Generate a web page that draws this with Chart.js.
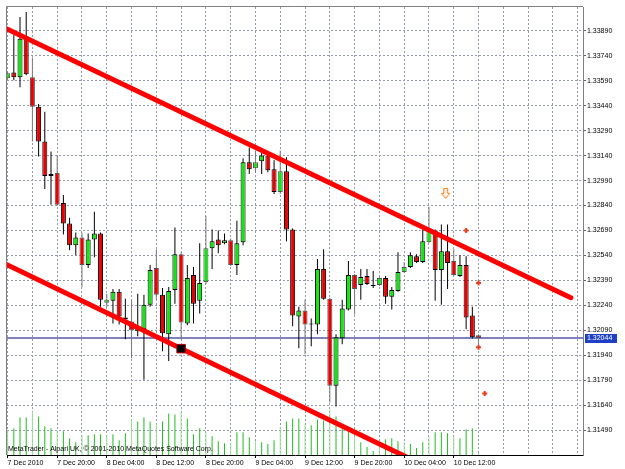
<!DOCTYPE html>
<html>
<head>
<meta charset="utf-8">
<script src="https://cdn.jsdelivr.net/npm/chart.js@4.4.1/dist/chart.umd.min.js"></script>
<style>
  html, body { margin: 0; padding: 0; background: #fff; }
  canvas { display: block; }
</style>
</head>
<body>
<canvas id="chart" width="625" height="469"></canvas>
<script>
// H1 bars, 7 Dec 2010 12:00 -> 10 Dec 2010 16:00
const opens = [1.33605, 1.33640, 1.33611, 1.33842, 1.33611, 1.33433, 1.33225, 1.33017, 1.33035, 1.32856,
  1.32732, 1.32601, 1.32648, 1.32482, 1.32636, 1.32672, 1.32256, 1.32268, 1.32322, 1.32167,
  1.32143, 1.32084, 1.32096, 1.32244, 1.32464, 1.32304, 1.32066, 1.32333, 1.32547, 1.32131,
  1.32423, 1.32268, 1.32381, 1.32583, 1.32636, 1.32613, 1.32631, 1.32482, 1.32619, 1.33100,
  1.33064, 1.33106, 1.33141, 1.33058, 1.32922, 1.33046, 1.32696, 1.32173, 1.32209, 1.32128,
  1.32125, 1.32458, 1.32280, 1.31757, 1.32042, 1.32215, 1.32423, 1.32363, 1.32417, 1.32363,
  1.32363, 1.32405, 1.32292, 1.32327, 1.32440, 1.32470, 1.32535, 1.32500, 1.32619, 1.32690,
  1.32452, 1.32565, 1.32506, 1.32417, 1.32482, 1.32179, 1.32060];
const highs = [1.33646, 1.33866, 1.33973, 1.34003, 1.33730, 1.33450, 1.33403, 1.33165, 1.33141, 1.32904,
  1.32767, 1.32678, 1.32678, 1.32672, 1.32803, 1.32678, 1.32310, 1.32339, 1.32339, 1.32280,
  1.32274, 1.32310, 1.32304, 1.32482, 1.32577, 1.32345, 1.32351, 1.32708, 1.32559, 1.32482,
  1.32470, 1.32613, 1.32779, 1.32696, 1.32690, 1.32672, 1.32642, 1.32749, 1.33124, 1.33189,
  1.33171, 1.33171, 1.33153, 1.33112, 1.33171, 1.33130, 1.32702, 1.32232, 1.32274, 1.32161,
  1.32518, 1.32577, 1.32286, 1.32066, 1.32274, 1.32506, 1.32429, 1.32458, 1.32458, 1.32446,
  1.32411, 1.32417, 1.32351, 1.32559, 1.32500, 1.32559, 1.32547, 1.32696, 1.32832, 1.32696,
  1.32726, 1.32726, 1.32577, 1.32541, 1.32535, 1.32232, 1.32066];
const lows = [1.33593, 1.33593, 1.33551, 1.33623, 1.33225, 1.33135, 1.32939, 1.32844, 1.32838, 1.32666,
  1.32571, 1.32541, 1.32351, 1.32464, 1.32530, 1.32232, 1.32227, 1.32131, 1.32125, 1.32036,
  1.31923, 1.32054, 1.31793, 1.32232, 1.32274, 1.31965, 1.31906, 1.32250, 1.32036, 1.32120,
  1.32131, 1.32191, 1.32369, 1.32458, 1.32553, 1.32607, 1.32476, 1.32423, 1.32601, 1.33029,
  1.33035, 1.33029, 1.33040, 1.32910, 1.32910, 1.32625, 1.32114, 1.31983, 1.31947, 1.31995,
  1.32066, 1.32274, 1.31656, 1.31632, 1.32007, 1.32209, 1.32185, 1.32274, 1.32363, 1.32345,
  1.32357, 1.32250, 1.32215, 1.32322, 1.32435, 1.32464, 1.32494, 1.32494, 1.32613, 1.32268,
  1.32244, 1.32339, 1.32417, 1.32411, 1.32096, 1.32042, 1.32007];
const closes = [1.33635, 1.33611, 1.33842, 1.33629, 1.33433, 1.33225, 1.33017, 1.33029, 1.32844, 1.32732,
  1.32601, 1.32648, 1.32482, 1.32636, 1.32672, 1.32274, 1.32274, 1.32322, 1.32173, 1.32155,
  1.32090, 1.32114, 1.32244, 1.32452, 1.32304, 1.32072, 1.32327, 1.32547, 1.32137, 1.32405,
  1.32250, 1.32375, 1.32583, 1.32625, 1.32601, 1.32631, 1.32482, 1.32613, 1.33100, 1.33058,
  1.33100, 1.33141, 1.33052, 1.32922, 1.33046, 1.32696, 1.32179, 1.32209, 1.32125, 1.32125,
  1.32458, 1.32280, 1.31757, 1.32048, 1.32221, 1.32423, 1.32339, 1.32411, 1.32369, 1.32357,
  1.32405, 1.32292, 1.32333, 1.32440, 1.32470, 1.32541, 1.32500, 1.32625, 1.32690, 1.32452,
  1.32565, 1.32494, 1.32423, 1.32482, 1.32167, 1.32048, 1.32044];
const volumes = [500, 540, 760, 760, 900, 780, 580, 540, 460, 480,
  340, 260, 400, 400, 420, 420, 400, 420, 300, 440,
  720, 680, 760, 680, 640, 680, 840, 820, 900, 740,
  420, 540, 460, 380, 280, 240, 240, 460, 460, 360,
  280, 260, 220, 300, 560, 680, 740, 740, 620, 600,
  720, 700, 920, 780, 540, 480, 380, 260, 160, 80,
  160, 320, 340, 280, 260, 220, 140, 260, 360, 460,
  460, 440, 380, 340, 520, 540, 40];

const timeLabels = ["7 Dec 2010", "7 Dec 20:00", "8 Dec 04:00", "8 Dec 12:00", "8 Dec 20:00",
  "9 Dec 04:00", "9 Dec 12:00", "9 Dec 20:00", "10 Dec 04:00", "10 Dec 12:00"];
const priceTicks = [1.31490, 1.31640, 1.31790, 1.31940, 1.32090, 1.32240, 1.32390, 1.32540,
  1.32690, 1.32840, 1.32990, 1.33140, 1.33290, 1.33440, 1.33590, 1.33740, 1.33890];
const bidPrice = 1.32044;

// objects on the chart: [bar index, price]
const upperChannel = [[-1, 1.33917], [90.9, 1.32286]];
const lowerChannel = [[-1, 1.32500], [70, 1.31228]];
const anchorPoint = [[28, 1.31980]];
const signalDots = [[74, 1.32690], [76, 1.32375], [76, 1.31989], [77, 1.31710]];
const sellArrow = [[70.7, 1.32913]];

const copyright = "MetaTrader - Alpari UK, \u00a9 2001-2010 MetaQuotes Software Corp.";
const font = { family: '"Liberation Sans", Arial, sans-serif', size: 7 };
const gridColor = '#949cab';

const toPoints = arr => arr.map(p => ({ x: p[0], y: p[1] }));
const bull = opens.map((o, i) => closes[i] >= o);
const soft = opens.map((o, i) => i % 4 === 0);

function arrowIcon() {
  const c = document.createElement('canvas');
  c.width = 9; c.height = 11;
  const g = c.getContext('2d');
  g.beginPath();
  g.moveTo(2.5, 0.5); g.lineTo(6.5, 0.5); g.lineTo(6.5, 5.5); g.lineTo(8.5, 5.5);
  g.lineTo(4.5, 10.5); g.lineTo(0.5, 5.5); g.lineTo(2.5, 5.5); g.closePath();
  g.fillStyle = '#fff4ee'; g.fill();
  g.strokeStyle = '#ff7a10'; g.lineWidth = 1; g.stroke();
  return c;
}

const decor = {
  id: 'decor',
  afterDraw(chart) {
    const { ctx, chartArea: a, scales } = chart;
    ctx.save();
    ctx.strokeStyle = '#808080';
    ctx.lineWidth = 1;
    ctx.beginPath();
    ctx.moveTo(a.left - 0.5, a.bottom);
    ctx.lineTo(a.left - 0.5, a.top - 0.5);
    ctx.lineTo(a.right, a.top - 0.5);
    ctx.stroke();

    ctx.font = '7px "Liberation Sans", Arial, sans-serif';
    ctx.fillStyle = '#000';
    ctx.textBaseline = 'alphabetic';
    ctx.fillText(copyright, a.left + 1, a.bottom - 4);

    const y = Math.round(scales.y.getPixelForValue(bidPrice));
    ctx.fillStyle = '#1f3fc4';
    ctx.fillRect(a.right + 2, y - 4, 32, 9);
    ctx.fillStyle = '#fff';
    ctx.textBaseline = 'middle';
    ctx.fillText(bidPrice.toFixed(5), a.right + 4, y + 0.5);
    ctx.restore();
  }
};

new Chart(document.getElementById('chart'), {
  type: 'bar',
  data: {
    datasets: [
      {
        label: 'Volume',
        yAxisID: 'yv',
        data: volumes.map((v, i) => ({ x: i, y: v })),
        backgroundColor: soft.map(s => s ? '#9bdc9b' : '#22bb22'),
        barThickness: 1,
        inflateAmount: 0,
        grouped: false,
        order: 6
      },
      {
        type: 'line',
        label: 'Bid',
        data: [{ x: -1, y: bidPrice }, { x: 95, y: bidPrice }],
        borderColor: '#00007a',
        borderWidth: 1,
        pointRadius: 0,
        clip: 0,
        order: 5
      },
      {
        label: 'Wicks',
        data: highs.map((h, i) => ({ x: i, y: [lows[i], h] })),
        backgroundColor: soft.map(s => s ? '#7a7a7a' : '#000'),
        barThickness: 1,
        inflateAmount: 0,
        grouped: false,
        order: 4
      },
      {
        label: 'Bodies',
        data: opens.map((o, i) => ({ x: i, y: [o, closes[i]] })),
        backgroundColor: bull.map(b => b ? '#14e614' : '#ec0000'),
        borderColor: soft.map(s => s ? '#555' : '#000'),
        borderWidth: 1,
        borderSkipped: false,
        barThickness: 5,
        minBarLength: 1,
        inflateAmount: 0,
        grouped: false,
        order: 3
      },
      {
        type: 'line',
        label: 'Upper channel',
        data: toPoints(upperChannel),
        borderColor: '#ff0000',
        borderWidth: 5,
        borderCapStyle: 'round',
        pointRadius: 0,
        clip: 0,
        order: 2
      },
      {
        type: 'line',
        label: 'Lower channel',
        data: toPoints(lowerChannel),
        borderColor: '#ff0000',
        borderWidth: 5,
        pointRadius: 0,
        clip: 0,
        order: 2
      },
      {
        type: 'scatter',
        label: 'Anchor',
        data: toPoints(anchorPoint),
        pointStyle: 'rect',
        pointRadius: 6,
        backgroundColor: '#000',
        borderColor: '#b00000',
        borderWidth: 1,
        order: 1
      },
      {
        type: 'scatter',
        label: 'Signals',
        data: toPoints(signalDots),
        pointStyle: 'cross',
        pointRadius: 2.5,
        borderColor: '#e8401c',
        borderWidth: 2,
        order: 1
      },
      {
        type: 'scatter',
        label: 'Sell',
        data: toPoints(sellArrow),
        pointStyle: arrowIcon(),
        order: 1
      }
    ]
  },
  options: {
    responsive: false,
    animation: false,
    devicePixelRatio: 1,
    events: [],
    layout: { padding: { left: 2, top: 2, right: 0, bottom: 0 } },
    plugins: { legend: { display: false }, tooltip: { enabled: false } },
    scales: {
      x: {
        type: 'linear',
        min: -0.1,
        max: 92.86,
        offset: false,
        afterBuildTicks: s => {
          const t = [];
          for (let v = 0; v <= s.max; v += 4) t.push({ value: v });
          s.ticks = t;
        },
        afterFit: s => { s.height = 14; },
        grid: {
          offset: false,
          color: gridColor,
          tickLength: 3,
          tickColor: c => (c.tick && c.tick.value % 8 === 0 && c.tick.value / 8 < timeLabels.length) ? '#000' : 'rgba(0,0,0,0)'
        },
        border: { color: '#000', width: 1, dash: [2, 2] },
        ticks: {
          autoSkip: false,
          maxRotation: 0,
          align: 'start',
          padding: 1,
          color: '#000',
          font,
          callback: v => v % 8 === 0 ? (timeLabels[v / 8] || '') : ''
        }
      },
      y: {
        position: 'right',
        min: 1.31341,
        max: 1.34033,
        afterBuildTicks: s => { s.ticks = priceTicks.map(v => ({ value: v })); },
        afterFit: s => { s.width = 42; },
        grid: { color: gridColor, tickLength: 3, tickColor: '#606060' },
        border: { color: '#808080', width: 1, dash: [2, 2] },
        ticks: { padding: 1, color: '#000', font, callback: v => v.toFixed(5) }
      },
      yv: { display: false, min: 0, max: 9060 }
    }
  },
  plugins: [decor]
});
</script>
</body>
</html>
